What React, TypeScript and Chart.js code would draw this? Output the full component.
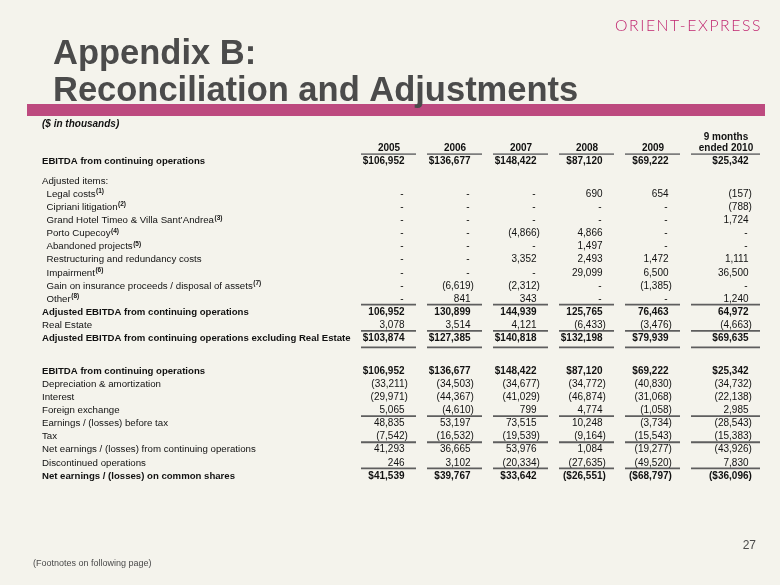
import React, { useEffect, useRef } from "react";
import { Chart, registerables } from "chart.js";

Chart.register(...registerables);

// ---------------- data ----------------
const COLUMN_HEADERS: string[][] = [
  ["2005"],
  ["2006"],
  ["2007"],
  ["2008"],
  ["2009"],
  ["9 months", "ended 2010"],
];

const UNITS_NOTE = "($ in thousands)";
const TITLE_LINES = ["Appendix B:", "Reconciliation and Adjustments"];
const LOGO_TEXT = "ORIENT-EXPRESS";
const FOOTER_NOTE = "(Footnotes on following page)";
const PAGE_NUMBER = "27";

const ROW_LABELS: string[] = [
  "EBITDA from continuing operations",
  "Adjusted items:",
  "Legal costs",
  "Cipriani litigation",
  "Grand Hotel Timeo & Villa Sant\u2019Andrea",
  "Porto Cupecoy",
  "Abandoned projects",
  "Restructuring and redundancy costs",
  "Impairment",
  "Gain on insurance proceeds / disposal of assets",
  "Other",
  "Adjusted EBITDA from continuing operations",
  "Real Estate",
  "Adjusted EBITDA from continuing operations excluding Real Estate",
  "EBITDA from continuing operations",
  "Depreciation & amortization",
  "Interest",
  "Foreign exchange",
  "Earnings / (losses) before tax",
  "Tax",
  "Net earnings / (losses) from continuing operations",
  "Discontinued operations",
  "Net earnings / (losses) on common shares",
];

const ROW_FOOTNOTES: (number | null)[] = [
  null, null, 1, 2, 3, 4, 5, null, 6, 7, 8, null, null, null,
  null, null, null, null, null, null, null, null, null,
];

// null = "-"
const ROW_VALUES: ((number | null)[] | null)[] = [
  [106952, 136677, 148422, 87120, 69222, 25342],
  null,
  [null, null, null, 690, 654, -157],
  [null, null, null, null, null, -788],
  [null, null, null, null, null, 1724],
  [null, null, -4866, 4866, null, null],
  [null, null, null, 1497, null, null],
  [null, null, 3352, 2493, 1472, 1111],
  [null, null, null, 29099, 6500, 36500],
  [null, -6619, -2312, null, -1385, null],
  [null, 841, 343, null, null, 1240],
  [106952, 130899, 144939, 125765, 76463, 64972],
  [3078, 3514, 4121, -6433, -3476, -4663],
  [103874, 127385, 140818, 132198, 79939, 69635],
  [106952, 136677, 148422, 87120, 69222, 25342],
  [-33211, -34503, -34677, -34772, -40830, -34732],
  [-29971, -44367, -41029, -46874, -31068, -22138],
  [5065, -4610, 799, 4774, -1058, 2985],
  [48835, 53197, 73515, 10248, -3734, -28543],
  [-7542, -16532, -19539, -9164, -15543, -15383],
  [41293, 36665, 53976, 1084, -19277, -43926],
  [246, 3102, -20334, -27635, -49520, 7830],
  [41539, 39767, 33642, -26551, -68797, -36096],
];

// ---------------- styles ----------------
const ROW_BOLD = [1, 0, 0, 0, 0, 0, 0, 0, 0, 0, 0, 1, 0, 1, 1, 0, 0, 0, 0, 0, 0, 0, 1];
const ROW_INDENT = [0, 0, 1, 1, 1, 1, 1, 1, 1, 1, 1, 0, 0, 0, 0, 0, 0, 0, 0, 0, 0, 0, 0];
const ROW_DOLLAR = [1, 0, 0, 0, 0, 0, 0, 0, 0, 0, 0, 0, 0, 1, 1, 0, 0, 0, 0, 0, 0, 0, 1];
// spacing before each row, in half-lines (header sits on half-line 0)
const ROW_HALF_LINES_BEFORE = [2, 3, 2, 2, 2, 2, 2, 2, 2, 2, 2, 2, 2, 2, 5, 2, 2, 2, 2, 2, 2, 2, 2];
const RULE_ABOVE_ROWS = [11, 13, 18, 20, 22];
const RULE_BELOW_ROWS = [13];
const RULE_BELOW_GAP = 1.5; // half-lines
const COL_HALF_WIDTH = [27.5, 27.5, 27.5, 27.5, 27.5, 34.5];
const COL_NUDGE = [0, 0, 0, 0, 0, 7];
const NUM_INSET = 11.5;

const FONT = '"Liberation Sans", Arial, Helvetica, sans-serif';
const BG = "#f4f3ec";
const TEXT = "#111111";
const TITLE_COLOR = "#4b4b4b";
const MAGENTA_BAR = "#bd4a7f";
const LOGO_COLOR = "#c0266f";
const RULE_COLOR = "#5e5e5e";
const HEADER_RULE_COLOR = "#7d7d7d";

// build slot table for the category y-axis
const ROW_SLOTS: number[] = [];
{
  let s = 0;
  for (const g of ROW_HALF_LINES_BEFORE) {
    s += g;
    ROW_SLOTS.push(s);
  }
}
const Y_SLOT_LABELS: string[] = Array.from({ length: ROW_SLOTS[ROW_SLOTS.length - 1] + 1 }, () => "");
Y_SLOT_LABELS[0] = "header";
ROW_SLOTS.forEach((s, i) => (Y_SLOT_LABELS[s] = ROW_LABELS[i]));

function formatValue(v: number, dollar: boolean) {
  const s = (dollar ? "$" : "") + Math.abs(v).toLocaleString("en-US");
  return v < 0 ? { body: "(" + s, tail: ")" } : { body: s, tail: "" };
}

const slidePlugin = {
  id: "slide",
  beforeDraw(chart: any) {
    const ctx: CanvasRenderingContext2D = chart.ctx;
    const W = chart.width;
    const H = chart.height;
    ctx.save();
    ctx.fillStyle = BG;
    ctx.fillRect(0, 0, W, H);

    // magenta bar
    ctx.fillStyle = MAGENTA_BAR;
    ctx.fillRect(27, 104, 738, 12);

    // title
    ctx.fillStyle = TITLE_COLOR;
    ctx.font = `bold 34.5px ${FONT}`;
    ctx.textBaseline = "alphabetic";
    ctx.textAlign = "left";
    ctx.fillText(TITLE_LINES[0], 53, 64);
    ctx.fillText(TITLE_LINES[1], 53, 101);

    // logo
    ctx.fillStyle = LOGO_COLOR;
    ctx.font = `300 15px Lato, "Noto Sans", sans-serif`;
    (ctx as any).letterSpacing = "1.5px";
    const w = ctx.measureText(LOGO_TEXT).width;
    ctx.translate(615, 31);
    ctx.scale(147 / w, 1);
    ctx.fillText(LOGO_TEXT, 0, 0);
    ctx.restore();
  },
  afterDraw(chart: any) {
    const ctx: CanvasRenderingContext2D = chart.ctx;
    const xs = chart.scales.x;
    const ys = chart.scales.y;
    const colX = (i: number) => xs.getPixelForValue(i) + COL_NUDGE[i];
    const slotY = (s: number) => ys.getPixelForValue(s);
    const numRight = (i: number) => colX(i) + COL_HALF_WIDTH[i] - NUM_INSET;

    ctx.save();
    ctx.textBaseline = "alphabetic";
    ctx.fillStyle = TEXT;

    // units note
    ctx.font = `italic bold 10px ${FONT}`;
    ctx.textAlign = "left";
    ctx.fillText(UNITS_NOTE, 42, 127);

    // column headers
    const headerY = slotY(0);
    ctx.font = `bold 10px ${FONT}`;
    ctx.textAlign = "center";
    COLUMN_HEADERS.forEach((lines, i) => {
      const cx = colX(i) + 0.5;
      lines.forEach((ln, k) => {
        const by = headerY + 3.6 - (lines.length - 1 - k) * 11.5;
        ctx.fillText(ln, cx, by);
      });
    });

    // rules
    const drawRule = (s: number, color: string) => {
      const yy = slotY(s);
      ctx.strokeStyle = color;
      ctx.lineWidth = 1.8;
      COLUMN_HEADERS.forEach((_, i) => {
        const c = colX(i);
        ctx.beginPath();
        ctx.moveTo(c - COL_HALF_WIDTH[i], yy);
        ctx.lineTo(c + COL_HALF_WIDTH[i], yy);
        ctx.stroke();
      });
    };
    drawRule(1, HEADER_RULE_COLOR);
    RULE_ABOVE_ROWS.forEach((r) => drawRule(ROW_SLOTS[r] - 1, RULE_COLOR));
    RULE_BELOW_ROWS.forEach((r) => drawRule(ROW_SLOTS[r] + RULE_BELOW_GAP, RULE_COLOR));

    // rows
    ROW_LABELS.forEach((label, r) => {
      const yy = slotY(ROW_SLOTS[r]);
      const base = yy + 3.6;
      const bold = !!ROW_BOLD[r];
      ctx.fillStyle = TEXT;
      ctx.textAlign = "left";
      ctx.font = bold ? `bold 9.6px ${FONT}` : `9.7px ${FONT}`;
      const lx = ROW_INDENT[r] ? 46.5 : 42;
      ctx.fillText(label, lx, base);
      const note = ROW_FOOTNOTES[r];
      if (note !== null) {
        const lw = ctx.measureText(label).width;
        ctx.font = `bold 6.5px ${FONT}`;
        ctx.fillText(`(${note})`, lx + lw + 0.5, base - 3.6);
      }
      const vals = ROW_VALUES[r];
      if (!vals) return;
      ctx.font = bold ? `bold 10px ${FONT}` : `10px ${FONT}`;
      vals.forEach((v, i) => {
        const R = numRight(i);
        if (v === null) {
          ctx.textAlign = "right";
          ctx.fillText("-", R - 1, base);
          return;
        }
        const f = formatValue(v, !!ROW_DOLLAR[r]);
        ctx.textAlign = "right";
        ctx.fillText(f.body, R, base);
        if (f.tail) {
          ctx.textAlign = "left";
          ctx.fillText(f.tail, R, base);
        }
      });
    });

    // footer
    ctx.fillStyle = "#4a4a4a";
    ctx.textAlign = "left";
    ctx.font = `9px ${FONT}`;
    ctx.fillText(FOOTER_NOTE, 33, 566);
    ctx.font = `12px ${FONT}`;
    ctx.textAlign = "right";
    ctx.fillText(PAGE_NUMBER, 756, 549);
    ctx.restore();
  },
};

export default function App() {
  const canvasRef = useRef<HTMLCanvasElement | null>(null);

  useEffect(() => {
    const canvas = canvasRef.current;
    if (!canvas) return;
    const topPx = 147.5;
    const bottomPx = 475;
    const leftPx = 388.5;
    const rightPx = 718.5;
    const chart = new Chart(canvas, {
      type: "line",
      data: { labels: COLUMN_HEADERS.map((c) => c.join(" ")), datasets: [] },
      options: {
        responsive: false,
        animation: false,
        devicePixelRatio: 1,
        events: [],
        layout: {
          padding: { left: leftPx, right: 780 - rightPx, top: topPx, bottom: 585 - bottomPx },
        },
        plugins: {
          legend: { display: false },
          tooltip: { enabled: false },
          title: { display: false },
        },
        scales: {
          x: {
            type: "category",
            labels: COLUMN_HEADERS.map((c) => c.join(" ")),
            display: false,
            offset: false,
          },
          y: {
            type: "category",
            labels: Y_SLOT_LABELS,
            display: false,
            offset: false,
          },
        },
      },
      plugins: [slidePlugin],
    } as any);
    return () => chart.destroy();
  }, []);

  return (
    <div style={{ position: "absolute", left: 0, top: 0, width: 780, height: 585 }}>
      <canvas ref={canvasRef} width={780} height={585} style={{ display: "block" }} />
    </div>
  );
}
